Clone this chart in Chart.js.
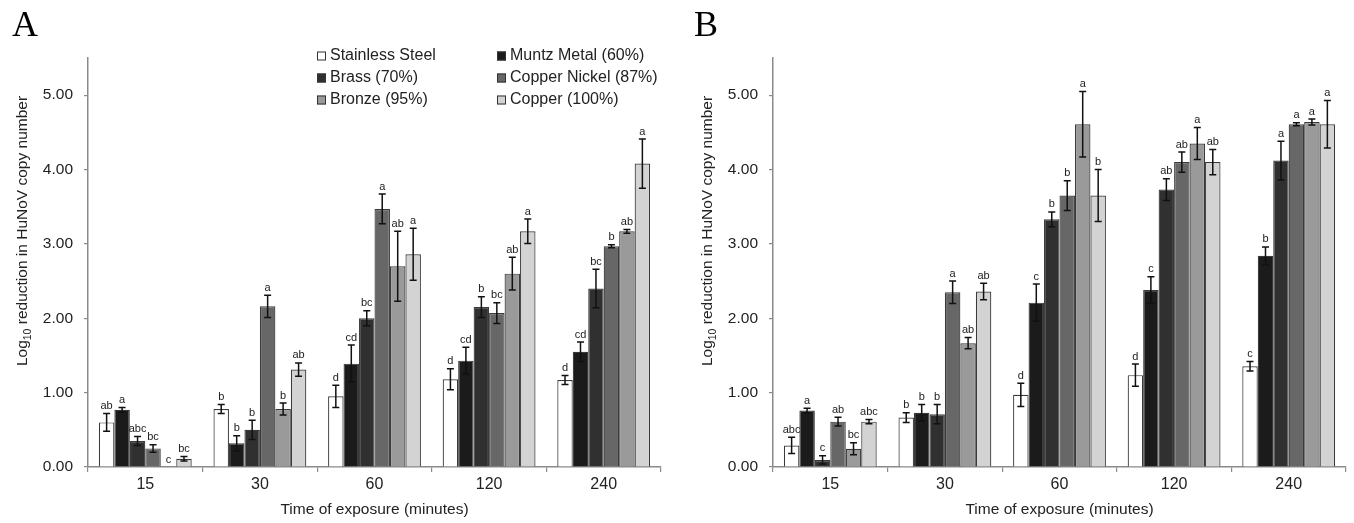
<!DOCTYPE html>
<html><head><meta charset="utf-8">
<script src="https://cdn.jsdelivr.net/npm/chart.js@4.4.1/dist/chart.umd.min.js"></script>
<style>
html,body{margin:0;padding:0;background:#fff;overflow:hidden}
#wrap{position:relative;width:1354px;height:523px;background:#fff}
canvas{position:absolute;top:0}
</style></head><body>
<div id="wrap">
<canvas id="cA" width="677" height="523" style="left:0"></canvas>
<canvas id="cB" width="677" height="523" style="left:677px"></canvas>
</div>
<script>
// ---------- data ----------
const categories = ['15', '30', '60', '120', '240'];
const seriesNames = ['Stainless Steel', 'Muntz Metal (60%)', 'Brass (70%)', 'Copper Nickel (87%)', 'Bronze (95%)', 'Copper (100%)'];
const seriesColors = ['#ffffff', '#1b1b1b', '#303030', '#676767', '#9a9a9a', '#d3d3d3'];
const yTickValues = [0, 1, 2, 3, 4, 5];

// Panel A
const stainlessA = [0.60, 0.78, 0.95, 1.18, 1.17];
const muntzA     = [0.77, 0.32, 1.39, 1.43, 1.55];
const brassA     = [0.35, 0.50, 2.00, 2.15, 2.40];
const cuNiA      = [0.25, 2.16, 3.47, 2.07, 2.97];
const bronzeA    = [0.00, 0.78, 2.70, 2.60, 3.17];
const copperA    = [0.11, 1.31, 2.86, 3.17, 4.08];
const stainlessAErr = [0.12, 0.06, 0.15, 0.14, 0.06];
const muntzAErr     = [0.03, 0.10, 0.25, 0.18, 0.13];
const brassAErr     = [0.06, 0.13, 0.10, 0.14, 0.26];
const cuNiAErr      = [0.05, 0.15, 0.20, 0.14, 0.02];
const bronzeAErr    = [0.00, 0.08, 0.47, 0.22, 0.025];
const copperAErr    = [0.03, 0.09, 0.35, 0.165, 0.33];
const stainlessALet = ['ab', 'b', 'd', 'd', 'd'];
const muntzALet     = ['a', 'b', 'cd', 'cd', 'cd'];
const brassALet     = ['abc', 'b', 'bc', 'b', 'bc'];
const cuNiALet      = ['bc', 'a', 'a', 'bc', 'b'];
const bronzeALet    = ['c', 'b', 'ab', 'ab', 'ab'];
const copperALet    = ['bc', 'ab', 'a', 'a', 'a'];

// Panel B
const stainlessB = [0.29, 0.665, 0.97, 1.235, 1.355];
const muntzB     = [0.76, 0.73, 2.21, 2.38, 2.84];
const brassB     = [0.095, 0.71, 3.33, 3.73, 4.12];
const cuNiB      = [0.61, 2.35, 3.65, 4.10, 4.61];
const bronzeB    = [0.245, 1.665, 4.61, 4.35, 4.64];
const copperB    = [0.61, 2.36, 3.65, 4.10, 4.61];
const stainlessBErr = [0.11, 0.065, 0.155, 0.15, 0.065];
const muntzBErr     = [0.03, 0.11, 0.25, 0.18, 0.12];
const brassBErr     = [0.055, 0.13, 0.10, 0.145, 0.26];
const cuNiBErr      = [0.06, 0.15, 0.20, 0.135, 0.02];
const bronzeBErr    = [0.08, 0.075, 0.44, 0.215, 0.04];
const copperBErr    = [0.03, 0.11, 0.35, 0.17, 0.32];
const stainlessBLet = ['abc', 'b', 'd', 'd', 'c'];
const muntzBLet     = ['a', 'b', 'c', 'c', 'b'];
const brassBLet     = ['c', 'b', 'b', 'ab', 'a'];
const cuNiBLet      = ['ab', 'a', 'b', 'ab', 'a'];
const bronzeBLet    = ['bc', 'ab', 'a', 'a', 'a'];
const copperBLet    = ['abc', 'ab', 'b', 'ab', 'a'];

const xTitle = 'Time of exposure (minutes)';
const yTitleParts = ['Log', '10', ' reduction in HuNoV copy number'];

// ---------- plugins ----------
const errorBarPlugin = {
  id: 'errbars',
  afterDatasetsDraw(chart, args, opts) {
    const ctx = chart.ctx;
    const ys = chart.scales.y;
    ctx.save();
    chart.data.datasets.forEach((ds, di) => {
      const meta = chart.getDatasetMeta(di);
      meta.data.forEach((el, i) => {
        const v = ds.data[i];
        const e = opts.errors[di][i];
        const x = el.x;
        const yt = ys.getPixelForValue(v + e);
        const yb = ys.getPixelForValue(Math.max(0, v - e));
        if (e > 0) {
          ctx.strokeStyle = '#111';
          ctx.lineWidth = 1.5;
          ctx.beginPath();
          ctx.moveTo(x, yt); ctx.lineTo(x, yb);
          ctx.moveTo(x - 3.5, yt); ctx.lineTo(x + 3.5, yt);
          ctx.moveTo(x - 3.5, yb); ctx.lineTo(x + 3.5, yb);
          ctx.stroke();
        }
        ctx.fillStyle = '#222';
        ctx.font = '11px "Liberation Sans", Arial, sans-serif';
        ctx.textAlign = 'center';
        ctx.textBaseline = 'bottom';
        ctx.fillText(opts.letters[di][i], x, yt - 2);
      });
    });
    ctx.restore();
  },
  afterDraw(chart, args, opts) {
    const ctx = chart.ctx;
    ctx.save();
    // panel letter
    ctx.fillStyle = '#000';
    ctx.font = '36px "Liberation Serif", "DejaVu Serif", serif';
    ctx.textAlign = 'left';
    ctx.textBaseline = 'alphabetic';
    ctx.fillText(opts.panel, opts.panelX, 36);
    // y axis title with subscript
    ctx.translate(opts.yTitleX, 231);
    ctx.rotate(-Math.PI / 2);
    const big = '15.5px "Liberation Sans", Arial, sans-serif';
    const small = '10.5px "Liberation Sans", Arial, sans-serif';
    ctx.font = big; const w0 = ctx.measureText(yTitleParts[0]).width;
    const w2 = ctx.measureText(yTitleParts[2]).width;
    ctx.font = small; const w1 = ctx.measureText(yTitleParts[1]).width;
    let sx = -(w0 + w1 + w2) / 2;
    ctx.fillStyle = '#222';
    ctx.textBaseline = 'middle';
    ctx.font = big; ctx.fillText(yTitleParts[0], sx, 0); sx += w0;
    ctx.font = small; ctx.fillText(yTitleParts[1], sx, 5); sx += w1;
    ctx.font = big; ctx.fillText(yTitleParts[2], sx, 0);
    ctx.restore();
    // legend
    if (opts.legend) {
      ctx.save();
      ctx.font = '16px "Liberation Sans", Arial, sans-serif';
      ctx.textBaseline = 'middle';
      ctx.textAlign = 'left';
      chart.data.datasets.forEach((ds, di) => {
        const col = di % 2, row = Math.floor(di / 2);
        const bx = col === 0 ? 317 : 497;
        const cy = 56 + row * 22;
        ctx.fillStyle = ds.backgroundColor;
        ctx.fillRect(bx, cy - 4.5, 9, 9);
        ctx.strokeStyle = '#333';
        ctx.lineWidth = 1;
        ctx.strokeRect(bx + 0.5, cy - 4, 8, 8);
        ctx.fillStyle = '#222';
        ctx.fillText(ds.label, bx + 13, cy);
      });
      ctx.restore();
    }
  }
};

function makeChart(id, panel, panelX, yTitleX, values, errors, letters, leftW, rightPad, legend) {
  const datasets = values.map((arr, i) => ({
    label: seriesNames[i],
    data: arr,
    backgroundColor: seriesColors[i],
    borderColor: '#3a3a3a',
    borderWidth: 1.2,
    categoryPercentage: 0.81,
    barPercentage: 1.0
  }));
  return new Chart(document.getElementById(id), {
    type: 'bar',
    data: { labels: categories, datasets },
    plugins: [errorBarPlugin],
    options: {
      responsive: false,
      animation: false,
      devicePixelRatio: 1,
      layout: { padding: { left: 0, right: rightPad, top: 58, bottom: 0 } },
      plugins: {
        legend: { display: false },
        tooltip: { enabled: false },
        errbars: { errors, letters, panel, panelX, yTitleX, legend }
      },
      scales: {
        x: {
          offset: true,
          grid: { display: true, offset: true, drawOnChartArea: false, drawTicks: true, tickLength: 5, color: '#8a8a8a', lineWidth: 1.2 },
          border: { display: true, color: '#8a8a8a', width: 1.5 },
          ticks: { color: '#222', font: { size: 16, family: '"Liberation Sans", Arial, sans-serif' }, padding: 3 },
          title: { display: true, text: xTitle, color: '#222', font: { size: 15.5, family: '"Liberation Sans", Arial, sans-serif' }, padding: { top: 0, bottom: 4 } },
          afterFit(s) { s.height = 56; }
        },
        y: {
          min: 0, max: 5.5,
          ticks: { stepSize: 1, color: '#222', padding: 11, font: { size: 15.5, family: '"Liberation Sans", Arial, sans-serif' }, callback: v => Number(v).toFixed(2) },
          grid: { display: true, drawOnChartArea: false, drawTicks: true, tickLength: 4, color: '#8a8a8a', lineWidth: 1.2 },
          border: { display: true, color: '#8a8a8a', width: 1.5 },
          afterBuildTicks(s) { s.ticks = yTickValues.map(v => ({ value: v })); },
          afterFit(s) { s.width = leftW; }
        }
      }
    }
  });
}

makeChart('cA', 'A', 12, 23,
  [stainlessA, muntzA, brassA, cuNiA, bronzeA, copperA],
  [stainlessAErr, muntzAErr, brassAErr, cuNiAErr, bronzeAErr, copperAErr],
  [stainlessALet, muntzALet, brassALet, cuNiALet, bronzeALet, copperALet],
  88, 16, true);
makeChart('cB', 'B', 17, 31,
  [stainlessB, muntzB, brassB, cuNiB, bronzeB, copperB],
  [stainlessBErr, muntzBErr, brassBErr, cuNiBErr, bronzeBErr, copperBErr],
  [stainlessBLet, muntzBLet, brassBLet, cuNiBLet, bronzeBLet, copperBLet],
  96, 8, false);
</script>
</body></html>
